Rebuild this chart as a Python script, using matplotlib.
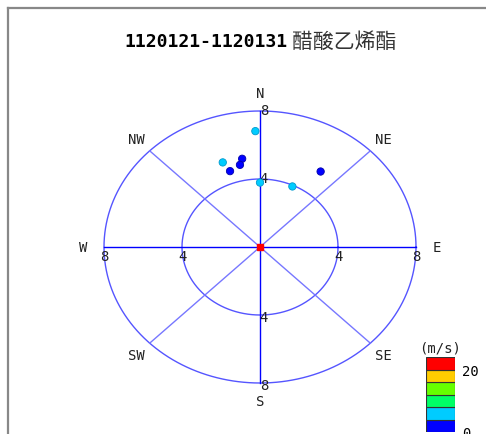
import numpy as np
import matplotlib.pyplot as plt
from matplotlib.lines import Line2D

# ─── 資料 ─────────────────────────────────────────────────────────────
titulo_periodo = "1120121-1120131"
titulo_especie = "醋酸乙烯酯"
direcao = [358, 339, 350, 348, 341, 35, 0, 25]          # graus (N = 0)
concentracao = [6.82, 5.33, 5.27, 4.94, 4.72, 5.42, 3.79, 3.93]
velocidade = [5, 5, 2, 2, 2, 2, 5, 5]                     # m/s
aneis = [4, 8]
rotulos_dir = ["N", "NE", "E", "SE", "S", "SW", "W", "NW"]
faixas_vel = [0, 4, 8, 12, 16, 20, 24]
cores_vel = ["#0000ff", "#00ccff", "#00ff66", "#66ff00", "#ffcc00", "#ff0000"]
rotulos_cbar = [0, 20]

MONO = "DejaVu Sans Mono"
W, H = 486, 435
fig = plt.figure(figsize=(W / 100, H / 100), dpi=100)

# moldura cinza
fig.add_artist(Line2D([8 / W, 8 / W], [0, 1 - 9 / H], color="#888888", lw=1.6))
fig.add_artist(Line2D([8 / W, 1], [1 - 9 / H, 1 - 9 / H], color="#888888", lw=1.6))

# título
fig.text(288 / W, 1 - 42 / H, titulo_periodo, ha="right", va="center",
         family=MONO, fontweight="bold", fontsize=13)
fig.text(292 / W, 1 - 42 / H, titulo_especie, ha="left", va="center",
         family=["Noto Sans CJK TC", "DejaVu Sans"], fontsize=15, color="#333333")

# ─── rosa ─────────────────────────────────────────────────────────────
cx, cy, rx, ry = 260, 248, 156, 136
ax = fig.add_axes([(cx - rx) / W, (H - cy - ry) / H, 2 * rx / W, 2 * ry / H])
ax.set_xlim(-8, 8)
ax.set_ylim(-8, 8)
ax.axis("off")

t = np.linspace(0, 2 * np.pi, 361)
for r in aneis:
    ax.plot(r * np.cos(t), r * np.sin(t), color="#5555ff", lw=1, clip_on=False)
for ang in [45, 135, 225, 315]:
    a = np.deg2rad(ang)
    ax.plot([0, 8 * np.cos(a)], [0, 8 * np.sin(a)], color="#7777ff", lw=1, clip_on=False)
ax.plot([-8, 8], [0, 0], color="#0000ff", lw=1, clip_on=False)
ax.plot([0, 0], [-8, 8], color="#0000ff", lw=1, clip_on=False)

# rótulos dos anéis
for r in aneis:
    ax.text(0.2, r + 0.05, str(r), ha="center", va="center", family=MONO, fontsize=10, color="#222222")
    ax.text(0.2, -r - 0.1, str(r), ha="center", va="center", family=MONO, fontsize=10, color="#222222")
    ax.text(r, -0.55, str(r), ha="center", va="center", family=MONO, fontsize=10, color="#222222")
    ax.text(-r, -0.55, str(r), ha="center", va="center", family=MONO, fontsize=10, color="#222222")

# rótulos de direção
for i, lab in enumerate(rotulos_dir):
    a = np.deg2rad(90 - 45 * i)
    rr = 9.05 if i % 2 == 0 else 8.95
    ax.text(rr * np.cos(a), rr * np.sin(a), lab,
            ha="center", va="center", family=MONO, fontsize=10, color="#222222")

# pontos
theta = np.deg2rad(90 - np.array(direcao))
px = np.array(concentracao) * np.cos(theta)
py = np.array(concentracao) * np.sin(theta)
idx = np.digitize(velocidade, faixas_vel) - 1
cores = [cores_vel[k] for k in idx]
bordas = ["#0000aa" if k == 0 else "#0099cc" for k in idx]
ax.scatter(px, py, s=28, c=cores, edgecolors=bordas, linewidths=0.6, zorder=5, clip_on=False)
ax.plot([0], [0], marker="s", ms=4.5, color="#ff0000", zorder=6)

# ─── barra de cores ───────────────────────────────────────────────────
cax = fig.add_axes([426 / W, 2 / H, 29 / W, 75 / H])
cax.bar([0] * 6, np.diff(faixas_vel), bottom=faixas_vel[:-1], width=1,
        color=cores_vel, edgecolor="#333333", lw=0.8)
cax.set_xlim(-0.5, 0.5)
cax.set_ylim(0, 24)
cax.set_xticks([])
cax.yaxis.tick_right()
cax.set_yticks(rotulos_cbar)
cax.tick_params(axis="y", length=0, pad=5, labelsize=10)
for lbl in cax.get_yticklabels():
    lbl.set_family(MONO)
for s in cax.spines.values():
    s.set_visible(False)
cax.text(0, 27, "(m/s)", ha="center", va="center", family=MONO, fontsize=10, color="#222222")

plt.savefig("out.png", dpi=100)
